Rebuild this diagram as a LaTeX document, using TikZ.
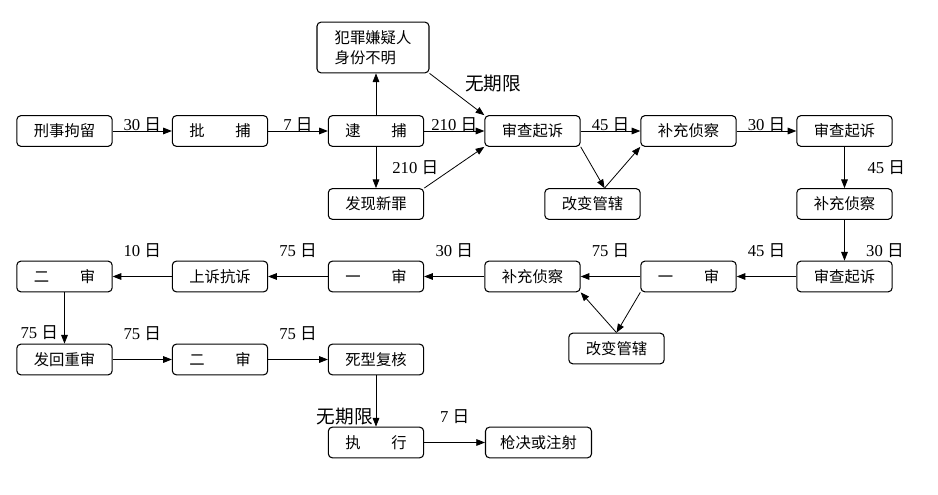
\documentclass[tikz,border=0pt]{standalone}
\usepackage{fontspec}
\setmainfont{Liberation Serif}
\newfontfamily\cjk{Noto Sans CJK SC}
\usetikzlibrary{arrows.meta}

\begin{document}
\begin{tikzpicture}[x=0.75pt,y=-0.75pt]
\tikzset{>={Triangle[width=5pt,length=6.5pt]}}
\tikzstyle{stage}=[draw, rounded corners=3pt, line width=0.8pt, minimum width=71.5pt, minimum height=23pt, inner xsep=11pt, font=\cjk\fontsize{11.5}{15}\selectfont]
\tikzstyle{days}=[inner sep=1pt, font=\fontsize{12.5}{14}\selectfont]
\tikzstyle{note}=[inner sep=1pt, font=\cjk\fontsize{14}{15}\selectfont]
\tikzstyle{flow}=[->, line width=0.6pt]

\useasboundingbox (0,0) rectangle (938,495);

% first row
\node[stage](jl) at (64.5,131){刑事拘留};
\node[stage](pb) at (220,131){批\hspace{2em}捕};
\node[stage](db) at (376,131){逮\hspace{2em}捕};
\node[stage,align=left,minimum height=38pt,minimum width=84pt](fx) at (373,47.5){犯罪嫌疑人\\身份不明};
\node[stage](xz) at (376,204){发现新罪};
\node[stage](sc1) at (532.5,131){审查起诉};
\node[stage](gb1) at (592.5,204){改变管辖};
\node[stage](bc1) at (688.5,131){补充侦察};
\node[stage](sc2) at (844.5,131){审查起诉};
\node[stage](bc2) at (844.5,204){补充侦察};

% second row
\node[stage](sc3) at (844.5,276.5){审查起诉};
\node[stage](ys1) at (688.5,276.5){一\hspace{2em}审};
\node[stage](bc3) at (532.5,276.5){补充侦察};
\node[stage](gb2) at (616.5,348.5){改变管辖};
\node[stage](ys2) at (376,276.5){一\hspace{2em}审};
\node[stage](ss) at (220,276.5){上诉抗诉};
\node[stage](es1) at (64.5,276.5){二\hspace{2em}审};

% third row
\node[stage](fh) at (64.5,359.5){发回重审};
\node[stage](es2) at (220,359.5){二\hspace{2em}审};
\node[stage](sx) at (376,359.5){死型复核};
\node[stage](zx) at (376,442.5){执\hspace{2em}行};
\node[stage](qj) at (538.5,442.5){枪决或注射};

\draw[flow] (jl) -- node[days,above=-1.5pt]{30 {\cjk 日}} (pb);
\draw[flow] (pb) -- node[days,above=-1.5pt]{7 {\cjk 日}} (db);
\draw[flow] (db) -- node[days,above=-1.5pt]{210 {\cjk 日}} (sc1);
\draw[flow] (db.north) -- (db.north |- fx.south);
\draw[flow] (db) -- node[days,right=11pt]{210 {\cjk 日}} (xz);
\draw[flow] (fx.south east) -- node[note,anchor=south west,xshift=5pt]{无期限} (sc1.north west);
\draw[flow] (xz.north east) -- (sc1.south west);
\draw[flow] (sc1.south east) -- ([xshift=9pt]gb1.north);
\draw[flow] ([xshift=9pt]gb1.north) -- (bc1.south west);
\draw[flow] (sc1) -- node[days,above=-1.5pt]{45 {\cjk 日}} (bc1);
\draw[flow] (bc1) -- node[days,above=-1.5pt]{30 {\cjk 日}} (sc2);
\draw[flow] (sc2) -- node[days,right=16pt]{45 {\cjk 日}} (bc2);
\draw[flow] (bc2) -- node[days,pos=0.75,right=15pt]{30 {\cjk 日}} (sc3);

\draw[flow] (sc3) -- node[days,above=13pt]{45 {\cjk 日}} (ys1);
\draw[flow] (ys1) -- node[days,above=13pt]{75 {\cjk 日}} (bc3);
\draw[flow] (ys1.south west) -- (gb2.north);
\draw[flow] (gb2.north) -- (bc3.south east);
\draw[flow] (bc3) -- node[days,above=13pt]{30 {\cjk 日}} (ys2);
\draw[flow] (ys2) -- node[days,above=13pt]{75 {\cjk 日}} (ss);
\draw[flow] (ss) -- node[days,above=13pt]{10 {\cjk 日}} (es1);
\draw[flow] (es1) -- node[days,pos=1,anchor=south east,xshift=-3.5pt,yshift=2pt]{75 {\cjk 日}} (fh);

\draw[flow] (fh) -- node[days,above=13pt]{75 {\cjk 日}} (es2);
\draw[flow] (es2) -- node[days,above=13pt]{75 {\cjk 日}} (sx);
\draw[flow] (sx) -- node[note,pos=1,anchor=south east,xshift=-1pt]{无期限} (zx);
\draw[flow] (zx) -- node[days,above=13pt]{7 {\cjk 日}} (qj);
\end{tikzpicture}
\end{document}
